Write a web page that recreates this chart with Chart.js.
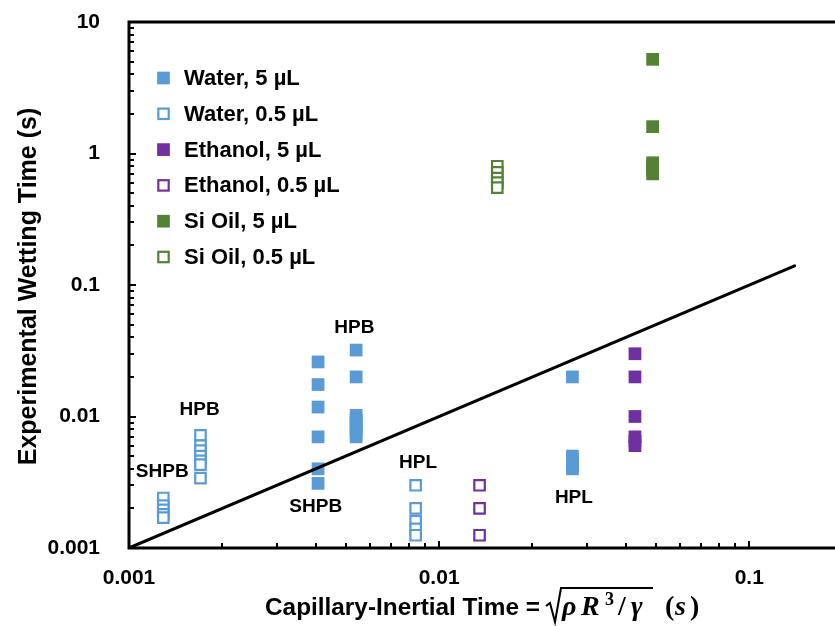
<!DOCTYPE html>
<html>
<head>
<meta charset="utf-8">
<script src="https://cdn.jsdelivr.net/npm/chart.js@4.4.1/dist/chart.umd.min.js"></script>
<style>
  body { margin: 0; background: #fff; }
  canvas { display: block; }
</style>
</head>
<body>
<canvas id="chart" width="835" height="626"></canvas>
<script>
// capillary-inertial time (x, s) vs experimental wetting time (y, s)
const water5X = [0.00407, 0.00407, 0.00407, 0.00407, 0.00407, 0.00407,
  0.0054, 0.0054, 0.0054, 0.0054, 0.0054, 0.0054, 0.0054, 0.0054, 0.0054,
  0.0269, 0.0269, 0.0269, 0.0269, 0.0269, 0.0269];
const water5Y = [0.026, 0.0175, 0.0118, 0.007, 0.004, 0.0031,
  0.032, 0.02, 0.0102, 0.0095, 0.009, 0.0085, 0.008, 0.0075, 0.007,
  0.02, 0.005, 0.0047, 0.0044, 0.0042, 0.004];

const water05X = [0.00129, 0.00129, 0.00129, 0.00129, 0.00129,
  0.0017, 0.0017, 0.0017, 0.0017, 0.0017, 0.0017, 0.0017,
  0.0084, 0.0084, 0.0084, 0.0084, 0.0084];
const water05Y = [0.0024, 0.0021, 0.00195, 0.0018, 0.0017,
  0.0072, 0.006, 0.0055, 0.005, 0.0046, 0.0043, 0.0034,
  0.003, 0.002, 0.0016, 0.0014, 0.00125];

const ethanol5X = [0.0428, 0.0428, 0.0428, 0.0428, 0.0428, 0.0428];
const ethanol5Y = [0.03, 0.02, 0.01, 0.007, 0.0065, 0.006];

const ethanol05X = [0.0135, 0.0135, 0.0135];
const ethanol05Y = [0.003, 0.002, 0.00125];

const siOil5X = [0.0488, 0.0488, 0.0488, 0.0488, 0.0488, 0.0488];
const siOil5Y = [5.2, 1.6, 0.85, 0.8, 0.75, 0.7];

const siOil05X = [0.0154, 0.0154, 0.0154, 0.0154, 0.0154];
const siOil05Y = [0.8, 0.72, 0.65, 0.6, 0.55];

// y = x reference line
const fitX = [0.001, 0.14];
const fitY = [0.001, 0.14];

const seriesNames = ['Water, 5 µL', 'Water, 0.5 µL', 'Ethanol, 5 µL',
  'Ethanol, 0.5 µL', 'Si Oil, 5 µL', 'Si Oil, 0.5 µL'];

const xTicks = [0.001, 0.01, 0.1];
const xTickLabels = ['0.001', '0.01', '0.1'];
const yTicks = [0.001, 0.01, 0.1, 1, 10];
const yTickLabels = ['0.001', '0.01', '0.1', '1', '10'];

// surface labels placed at data coordinates
const surfaceLabels = [
  { text: 'SHPB', x: 0.00128, y: 0.0038 },
  { text: 'HPB', x: 0.00169, y: 0.0112 },
  { text: 'HPB', x: 0.00533, y: 0.047 },
  { text: 'SHPB', x: 0.0040, y: 0.00205 },
  { text: 'HPL', x: 0.00855, y: 0.00443 },
  { text: 'HPL', x: 0.0272, y: 0.0024 }
];

const BLUE = '#5B9BD5';
const PURPLE = '#7030A0';
const GREEN = '#548235';
const SANS = '"Liberation Sans", Arial, sans-serif';
const SERIF = '"Liberation Serif", serif';

const pts = (xs, ys) => xs.map((x, i) => ({ x, y: ys[i] }));

function filled(label, xs, ys, color) {
  return {
    label, data: pts(xs, ys), pointStyle: 'rect',
    pointRadius: 9, pointBorderWidth: 0,
    backgroundColor: color, borderColor: color, showLine: false
  };
}
function hollow(label, xs, ys, color) {
  return {
    label, data: pts(xs, ys), pointStyle: 'rect',
    pointRadius: 7.4, pointBorderWidth: 2.2,
    backgroundColor: '#fff', borderColor: color, showLine: false
  };
}

const datasets = [
  {
    label: 'fit', data: pts(fitX, fitY), showLine: true,
    borderColor: '#000', borderWidth: 3, pointRadius: 0, borderCapStyle: 'round'
  },
  filled(seriesNames[0], water5X, water5Y, BLUE),
  hollow(seriesNames[1], water05X, water05Y, BLUE),
  filled(seriesNames[2], ethanol5X, ethanol5Y, PURPLE),
  hollow(seriesNames[3], ethanol05X, ethanol05Y, PURPLE),
  filled(seriesNames[4], siOil5X, siOil5Y, GREEN),
  hollow(seriesNames[5], siOil05X, siOil05Y, GREEN)
];

function drawXTitle(ctx) {
  const base = 615;
  const left = 265;
  ctx.fillStyle = '#000';
  ctx.strokeStyle = '#000';
  ctx.textAlign = 'left';
  ctx.textBaseline = 'alphabetic';

  // plain part, stretched a little to the width of the original face
  const prefix = 'Capillary-Inertial Time =';
  ctx.font = 'bold 23px ' + SANS;
  const w = ctx.measureText(prefix).width;
  ctx.save();
  ctx.translate(left, base);
  ctx.scale(275 / w, 1);
  ctx.fillText(prefix, 0, 0);
  ctx.restore();

  // sqrt(rho R^3 / gamma)  (s)
  const r = left + 281;
  const it = 'italic bold 28px ' + SERIF;
  const up = 'bold 28px ' + SERIF;
  ctx.font = it;
  ctx.fillText('ρ', r + 16, base);
  ctx.fillText('R', r + 35, base);
  ctx.font = 'bold 18px ' + SERIF;
  ctx.fillText('3', r + 59, base - 10);
  ctx.font = up;
  ctx.fillText('/', r + 72, base);
  ctx.font = it;
  ctx.fillText('γ', r + 85, base);
  ctx.lineWidth = 2;
  ctx.beginPath();
  ctx.moveTo(r, base - 9);
  ctx.lineTo(r + 4, base - 12);
  ctx.lineTo(r + 9, base + 7);
  ctx.lineTo(r + 15, base - 27);
  ctx.lineTo(r + 107, base - 27);
  ctx.stroke();
  ctx.font = up;
  ctx.fillText('(', r + 119, base);
  ctx.font = it;
  ctx.fillText('s', r + 129, base);
  ctx.font = up;
  ctx.fillText(')', r + 144, base);
}

const decorations = {
  id: 'decorations',
  afterDatasetsDraw(chart) {
    const { ctx, chartArea: a, scales: { x, y } } = chart;
    ctx.save();

    // axes frame (left, bottom, top)
    ctx.strokeStyle = '#000';
    ctx.lineWidth = 3;
    ctx.beginPath();
    ctx.moveTo(a.right, a.top);
    ctx.lineTo(a.left, a.top);
    ctx.lineTo(a.left, a.bottom);
    ctx.lineTo(a.right, a.bottom);
    ctx.stroke();

    // inward ticks, majors a bit longer
    ctx.lineWidth = 2;
    ctx.beginPath();
    for (let d = 0.001; d < 10; d *= 10) {
      for (let k = 1; k <= 10; k++) {
        const v = d * k;
        const len = (k === 1 || k === 10) ? 7 : 5;
        if (v <= 10.0001) {
          const py = Math.round(y.getPixelForValue(v));
          ctx.moveTo(a.left, py);
          ctx.lineTo(a.left + len, py);
        }
        if (v <= x.max) {
          const px = Math.round(x.getPixelForValue(v));
          ctx.moveTo(px, a.bottom);
          ctx.lineTo(px, a.bottom - len);
        }
      }
    }
    ctx.stroke();

    // surface labels
    ctx.fillStyle = '#000';
    ctx.font = 'bold 19px ' + SANS;
    ctx.textAlign = 'center';
    ctx.textBaseline = 'middle';
    surfaceLabels.forEach(l => {
      ctx.fillText(l.text, x.getPixelForValue(l.x), y.getPixelForValue(l.y));
    });

    // legend inside the plot
    ctx.textAlign = 'left';
    ctx.font = 'bold 22px ' + SANS;
    chart.data.datasets.slice(1).forEach((ds, i) => {
      const cy = 78 + i * 35.8;
      const cx = 163.5;
      if (ds.pointBorderWidth > 0) {
        const s = 10.4;
        ctx.fillStyle = '#fff';
        ctx.strokeStyle = ds.borderColor;
        ctx.lineWidth = ds.pointBorderWidth;
        ctx.fillRect(cx - s / 2, cy - s / 2, s, s);
        ctx.strokeRect(cx - s / 2, cy - s / 2, s, s);
      } else {
        const s = 12.7;
        ctx.fillStyle = ds.backgroundColor;
        ctx.fillRect(cx - s / 2, cy - s / 2, s, s);
      }
      ctx.fillStyle = '#000';
      ctx.fillText(ds.label, 184, cy + 1);
    });

    // y axis title
    ctx.save();
    ctx.translate(36, 286.5);
    ctx.rotate(-Math.PI / 2);
    ctx.textAlign = 'center';
    ctx.textBaseline = 'alphabetic';
    ctx.font = 'bold 25px ' + SANS;
    ctx.fillText('Experimental Wetting Time (s)', 0, 0);
    ctx.restore();

    drawXTitle(ctx);
    ctx.restore();
  }
};

const tickFont = { family: SANS, weight: 'bold', size: 21 };

new Chart(document.getElementById('chart'), {
  type: 'scatter',
  data: { datasets },
  plugins: [decorations],
  options: {
    responsive: false,
    animation: false,
    layout: { autoPadding: false, padding: { top: 22, right: 0, left: 0, bottom: 0 } },
    plugins: { legend: { display: false }, tooltip: { enabled: false } },
    scales: {
      x: {
        type: 'logarithmic', min: 0.001, max: 0.189,
        grid: { display: false }, border: { display: false },
        afterBuildTicks: s => { s.ticks = xTicks.map(v => ({ value: v })); },
        afterFit: s => { s.height = 78; s.paddingLeft = 0; s.paddingRight = 0; },
        ticks: {
          font: tickFont, color: '#000', padding: 10,
          maxRotation: 0, autoSkip: false,
          callback: (v, i) => xTickLabels[i]
        }
      },
      y: {
        type: 'logarithmic', min: 0.001, max: 10,
        grid: { display: false }, border: { display: false },
        afterBuildTicks: s => { s.ticks = yTicks.map(v => ({ value: v })); },
        afterFit: s => { s.width = 129; s.paddingTop = 0; s.paddingBottom = 0; },
        ticks: {
          font: tickFont, color: '#000', padding: 21,
          autoSkip: false,
          callback: (v, i) => yTickLabels[i]
        }
      }
    }
  }
});
</script>
</body>
</html>
